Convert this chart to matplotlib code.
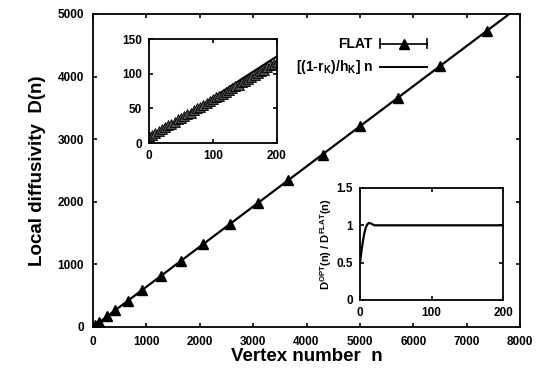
import matplotlib
matplotlib.use('Agg')
import matplotlib.pyplot as plt
from matplotlib.lines import Line2D

plt.rcParams['font.family'] = 'Liberation Sans'
plt.rcParams['font.weight'] = 'bold'
plt.rcParams['mathtext.default'] = 'regular'

# main panel: FLAT triangles and the linear fit
flat_n = [0, 40, 120, 260, 410, 650, 920, 1270, 1650, 2060, 2570, 3090,
          3650, 4300, 5000, 5710, 6500, 7380]
flat_d = [0, 25, 78, 168, 265, 418, 592, 815, 1060, 1322, 1648, 1982,
          2340, 2755, 3205, 3660, 4165, 4725]
fit_n = [0, 8000]
fit_d = [0, 5130]

# inset 1: small n region
small_n = [0, 5, 10, 15, 20, 25, 30, 35, 40, 45, 50, 55, 60, 65, 70, 75, 80,
           85, 90, 95, 100, 105, 110, 115, 120, 125, 130, 135, 140, 145, 150,
           155, 160, 165, 170, 175, 180, 185, 190, 195, 200]
small_d = [10, 12, 15, 18, 20, 23, 26, 28, 31, 34, 36, 39, 42, 44, 47, 50,
           52, 55, 58, 61, 63, 66, 68, 71, 74, 77, 79, 82, 84, 88, 90, 93,
           95, 98, 101, 104, 106, 109, 112, 114, 117]
small_fit_n = [0, 200]
small_fit_d = [6, 125]

# inset 2: ratio D_OPT / D_FLAT
ratio_n = [0, 1, 2, 3, 4, 5, 6, 7, 8, 9, 10, 12, 14, 16, 18, 20, 30, 50,
           100, 150, 200]
ratio_v = [0.5, 0.58, 0.65, 0.72, 0.78, 0.84, 0.89, 0.93, 0.97, 0.99, 1.01,
           1.03, 1.03, 1.02, 1.01, 1.0, 1.0, 1.0, 1.0, 1.0, 1.0]

fig = plt.figure(figsize=(5.4, 3.74), dpi=100)

def style(ax, fs, pad=3.5):
    ax.tick_params(direction='in', top=True, right=True, labelsize=fs,
                   length=3, width=1.2, pad=pad)
    for s in ax.spines.values():
        s.set_linewidth(1.3)
    for lab in ax.get_xticklabels() + ax.get_yticklabels():
        lab.set_fontweight('bold')

ax = fig.add_axes([0.1722, 0.1257, 0.791, 0.837])
ax.plot(fit_n, fit_d, color='black', lw=1.6)
ax.plot(flat_n, flat_d, '^', color='black', ms=6.5)
ax.set_xlim(0, 8000)
ax.set_ylim(0, 5000)
ax.set_xticks(range(0, 8001, 1000))
ax.set_yticks(range(0, 5001, 1000))
ax.set_xlabel('Vertex number  n', fontsize=13.5, fontweight='bold', labelpad=0)
ax.set_ylabel('Local diffusivity  D(n)', fontsize=13.5, fontweight='bold', labelpad=8)
style(ax, 8.5, pad=6.5)

# legend drawn gnuplot style
ax.text(0.655, 0.905, 'FLAT', transform=ax.transAxes, ha='right', va='center',
        fontsize=10, fontweight='bold')
ax.add_line(Line2D([0.672, 0.782], [0.905, 0.905], transform=ax.transAxes,
                   color='black', lw=1.2))
ax.add_line(Line2D([0.672, 0.672], [0.89, 0.92], transform=ax.transAxes,
                   color='black', lw=1.2))
ax.add_line(Line2D([0.782, 0.782], [0.89, 0.92], transform=ax.transAxes,
                   color='black', lw=1.2))
ax.add_line(Line2D([0.727], [0.905], transform=ax.transAxes, marker='^',
                   color='black', ms=6.5))
ax.text(0.655, 0.832, r'[(1-r$_{K}$)/h$_{K}$] n', transform=ax.transAxes, ha='right',
        va='center', fontsize=10, fontweight='bold')
ax.add_line(Line2D([0.672, 0.782], [0.832, 0.832], transform=ax.transAxes,
                   color='black', lw=1.4))

ax1 = fig.add_axes([0.2759, 0.6176, 0.237, 0.278])
ax1.plot(small_fit_n, small_fit_d, color='black', lw=1.6)
ax1.plot(small_n, small_d, '^', color='0.3', mec='black', mew=0.6, ms=7)
ax1.set_xlim(0, 200)
ax1.set_ylim(0, 150)
ax1.set_xticks([0, 100, 200])
ax1.set_yticks([0, 50, 100, 150])
style(ax1, 8.5, pad=5)

ax2 = fig.add_axes([0.6667, 0.1979, 0.265, 0.2995])
ax2.plot(ratio_n, ratio_v, color='black', lw=1.6)
ax2.set_xlim(0, 200)
ax2.set_ylim(0, 1.5)
ax2.set_xticks([0, 100, 200])
ax2.set_yticks([0, 0.5, 1, 1.5])
ax2.set_yticklabels(['0', '0.5', '1', '1.5'])
ax2.set_ylabel(r'D$^{OPT}$(n) / D$^{FLAT}$(n)', fontsize=8, fontweight='bold',
               labelpad=2)
style(ax2, 8.5, pad=5)

fig.savefig('out.png', dpi=100)
